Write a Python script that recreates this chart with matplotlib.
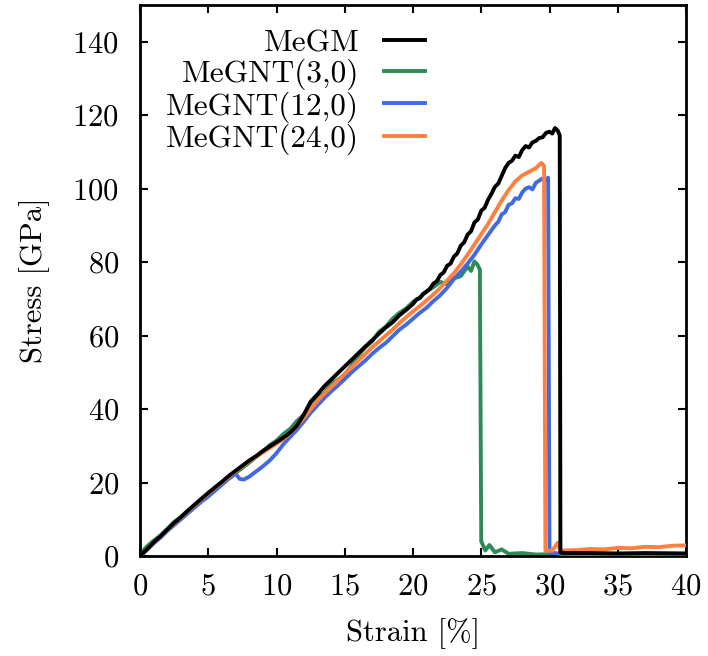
import numpy as np
import matplotlib
matplotlib.use("Agg")
import matplotlib.pyplot as plt

plt.rcParams['font.family'] = 'serif'
plt.rcParams['font.serif'] = ['cmr10']
plt.rcParams['mathtext.fontset'] = 'cm'
plt.rcParams['axes.formatter.use_mathtext'] = True

# MeGM (black)
strain_gm = [0, 0.5, 1, 1.5, 2, 2.5, 3, 3.5, 4, 4.5, 5, 5.5, 6, 6.5, 7, 7.5, 8, 8.5, 9, 9.5,
             10, 10.5, 11, 11.5, 12, 12.5, 13, 13.5, 14, 14.5, 15, 15.5, 16, 16.5, 17, 17.5,
             18, 18.5, 19, 19.5, 20, 20.25, 20.5, 20.75, 21, 21.25, 21.5, 21.75, 22, 22.25,
             22.5, 22.75, 23, 23.25, 23.5, 23.75, 24, 24.25, 24.5, 24.75, 25, 25.25, 25.5,
             25.75, 26, 26.25, 26.5, 26.75, 27, 27.25, 27.5, 27.75, 28, 28.25, 28.5, 28.75,
             29, 29.25, 29.5, 29.75, 30, 30.2, 30.4, 30.6, 30.75, 30.8, 31, 33, 35, 37, 40]
stress_gm = [0, 1.8, 3.7, 5.4, 7.2, 9.0, 10.6, 12.3, 14.0, 15.6, 17.2, 18.7, 20.2, 21.8, 23.2,
             24.6, 26.0, 27.2, 28.6, 29.8, 31.0, 32.2, 33.6, 35.5, 38.5, 42.0, 44.0, 46.2, 48.0,
             49.8, 51.6, 53.4, 55.2, 57.0, 58.7, 60.5, 62.2, 63.6, 65.5, 67.0, 68.6, 69.8, 70.2,
             71.4, 72.0, 72.8, 74.2, 74.8, 76.5, 77.2, 79.0, 79.6, 81.5, 82.4, 84.5, 85.4, 87.5,
             88.4, 90.8, 91.6, 94.0, 94.8, 97.0, 98.6, 100.5, 101.4, 103.5, 105.6, 107.0, 107.6,
             109.0, 108.6, 110.5, 111.6, 111.2, 112.6, 113.0, 113.8, 114.0, 115.2, 115.5, 115.0,
             116.5, 115.8, 114.5, 1.0, 0.8, 0.8, 0.7, 0.8, 0.7]

# MeGNT(3,0) (green)
strain_3 = [0, 0.5, 1, 1.5, 2, 2.5, 3, 3.5, 4, 4.5, 5, 5.5, 6, 6.5, 7, 7.5, 8, 8.5, 9, 9.5,
            10, 10.5, 11, 11.5, 12, 12.5, 13, 13.5, 14, 14.5, 15, 15.5, 16, 16.5, 17, 17.5,
            18, 18.5, 19, 19.5, 20, 20.5, 21, 21.5, 22, 22.5, 23, 23.5, 24, 24.25, 24.5, 24.7,
            24.9, 25.0, 25.3, 25.6, 26, 26.5, 27, 28, 29, 30, 32, 34, 36, 38, 40]
stress_3 = [0.5, 2.6, 4.2, 5.6, 7.4, 9.3, 10.6, 12.4, 13.6, 15.4, 16.6, 18.3, 19.6, 21.4, 22.6,
            24.0, 25.4, 27.0, 28.4, 30.2, 31.4, 33.2, 34.6, 36.8, 38.4, 40.6, 43.0, 44.4, 46.8,
            48.0, 49.4, 51.8, 54.6, 56.8, 58.4, 61.0, 62.4, 64.6, 66.2, 67.4, 69.2, 70.4, 72.0,
            73.2, 74.6, 74.0, 75.6, 76.2, 78.8, 77.6, 80.2, 79.4, 78.0, 4.0, 1.5, 3.0, 1.0,
            1.8, 0.6, 0.8, 0.4, 0.5, 0.3, 0.4, 0.3, 0.3, 0.3]

# MeGNT(12,0) (blue)
strain_12 = [0, 0.5, 1, 1.5, 2, 2.5, 3, 3.5, 4, 4.5, 5, 5.5, 6, 6.5, 7, 7.3, 7.6, 8, 8.5, 9,
             9.5, 10, 10.5, 11, 11.5, 12, 12.5, 13, 13.5, 14, 14.5, 15, 15.5, 16, 16.5, 17,
             17.5, 18, 18.5, 19, 19.5, 20, 20.5, 21, 21.5, 22, 22.5, 23, 23.5, 24, 24.5, 25,
             25.5, 26, 26.25, 26.5, 26.75, 27, 27.25, 27.5, 27.75, 28, 28.25, 28.5, 28.75, 29,
             29.25, 29.5, 29.75, 29.9, 30.0, 31, 34, 37, 40]
stress_12 = [0, 1.6, 3.4, 5.0, 6.8, 8.4, 10.0, 11.6, 13.2, 14.8, 16.2, 17.8, 19.4, 21.0, 22.4,
             21.0, 20.8, 21.6, 23.0, 24.4, 26.0, 28.0, 30.4, 32.4, 34.4, 36.6, 39.0, 41.0, 43.0,
             44.8, 46.4, 48.2, 50.0, 51.6, 53.2, 55.0, 56.6, 58.0, 59.8, 61.6, 63.0, 64.6, 66.2,
             67.6, 69.4, 71.0, 73.0, 75.4, 77.4, 79.6, 82.0, 84.8, 87.4, 90.0, 91.0, 93.0, 93.6,
             95.6, 96.0, 97.4, 97.2, 99.0, 100.0, 100.4, 99.8, 101.6, 102.2, 102.8, 102.4, 103.0,
             1.0, 0.5, 0.4, 0.5, 0.4]

# MeGNT(24,0) (orange)
strain_24 = [0, 0.5, 1, 1.5, 2, 2.5, 3, 3.5, 4, 4.5, 5, 5.5, 6, 6.5, 7, 7.5, 8, 8.5, 9, 9.5,
             10, 10.5, 11, 11.5, 12, 12.5, 13, 13.5, 14, 14.5, 15, 15.5, 16, 16.5, 17, 17.5,
             18, 18.5, 19, 19.5, 20, 20.5, 21, 21.5, 22, 22.5, 23, 23.5, 24, 24.5, 25, 25.5,
             26, 26.5, 27, 27.5, 28, 28.5, 29, 29.4, 29.6, 29.7, 30.2, 30.6, 30.8, 31, 32, 33,
             34, 35, 36, 37, 38, 39, 40]
stress_24 = [0, 1.8, 3.6, 5.4, 7.1, 8.8, 10.5, 12.1, 13.8, 15.4, 17.0, 18.5, 20.0, 21.5, 23.0,
             24.4, 25.8, 27.0, 28.2, 29.4, 30.6, 31.8, 33.4, 35.4, 37.6, 40.0, 42.2, 44.2, 46.0,
             47.8, 49.6, 51.4, 53.2, 55.0, 56.8, 58.4, 60.0, 61.6, 63.4, 65.0, 66.6, 68.0, 69.6,
             71.2, 73.0, 75.0, 77.0, 79.4, 82.0, 84.8, 87.6, 90.4, 93.6, 96.8, 99.6, 102.0, 103.6,
             104.6, 105.6, 107.0, 106.2, 1.5, 1.4, 3.6, 1.2, 1.5, 1.6, 1.9, 1.8, 2.2, 2.1, 2.5,
             2.4, 2.8, 2.9]

fig = plt.figure(figsize=(7.08, 6.56), dpi=100)
ax = fig.add_axes([140/708, 1 - 556/656, 546/708, 551/656])

lw = 2.8
ax.plot(strain_gm, stress_gm, color='black', lw=lw, label='MeGM', zorder=5)
ax.plot(strain_3, stress_3, color='#2e8b57', lw=lw, label='MeGNT(3,0)', zorder=2)
ax.plot(strain_12, stress_12, color='#4169e1', lw=lw, label='MeGNT(12,0)', zorder=3)
ax.plot(strain_24, stress_24, color='#ff7f3f', lw=lw, label='MeGNT(24,0)', zorder=4)

ax.set_xlim(0, 40)
ax.set_ylim(0, 150)
ax.set_xticks(np.arange(0, 41, 5))
ax.set_yticks(np.arange(0, 141, 20))
ax.tick_params(direction='in', length=6, width=1.5, labelsize=22, pad=12,
               top=True, right=True)
ax.tick_params(axis='y', pad=15)
for s in ax.spines.values():
    s.set_linewidth(2)

ax.set_xlabel('Strain [%]', fontsize=22, labelpad=13)
ax.set_ylabel('Stress [GPa]', fontsize=22, labelpad=16)

ax.legend(loc='upper right', bbox_to_anchor=(0.562, 0.996), frameon=False, markerfirst=False,
          fontsize=22.5, handlelength=1.3, handletextpad=0.8, labelspacing=0.04,
          borderaxespad=0.3)

fig.savefig('out.png', dpi=100)
